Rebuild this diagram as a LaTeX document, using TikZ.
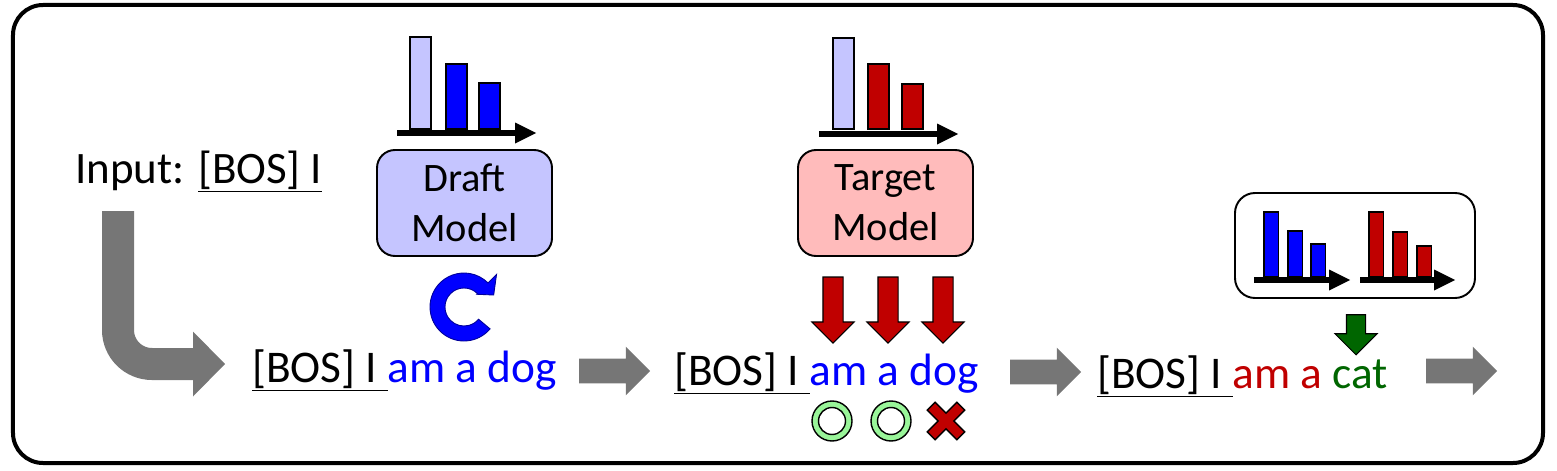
\documentclass[tikz,border=0pt]{standalone}
\usepackage{fontspec}
\setmainfont{Carlito}
\usepackage{tikz}
\usetikzlibrary{arrows.meta,shapes.arrows,positioning,calc}

\definecolor{draftfill}{RGB}{197,197,255}
\definecolor{targetfill}{RGB}{255,187,187}
\definecolor{darkred}{RGB}{192,0,0}
\definecolor{catgreen}{RGB}{0,102,0}
\definecolor{okgreen}{RGB}{153,245,153}
\definecolor{arrgray}{RGB}{118,118,118}

\begin{document}
\begin{tikzpicture}[
    model/.style={draw, line width=1.1pt, rounded corners=0.36cm, minimum width=3.5cm, minimum height=2.12cm, align=center, font=\fontsize{23}{28.5}\selectfont},
    seq/.style={anchor=base west, inner sep=0pt, font=\fontsize{25.8}{30}\selectfont},
    bar/.style={draw, line width=0.9pt},
    axis/.style={line width=0.11cm, -{Triangle[length=0.42cm, width=0.42cm, line width=0pt]}},
    flow/.style={single arrow, fill=arrgray, inner xsep=0pt, inner ysep=0.24cm, single arrow head extend=0.24cm, minimum height=1.42cm},
    check/.style={single arrow, draw, line width=0.6pt, rotate=-90, inner xsep=0pt}
]
\useasboundingbox (0,0) rectangle (31.14,9.4);
\draw[line width=0.08cm, rounded corners=0.6cm] (0.26,0.14) rectangle (30.86,9.30);

% input and the two models
\node[seq, font=\fontsize{25.6}{30}\selectfont] (input) at (1.5,5.74) {Input: \underline{[BOS] I}};
\node[model, fill=draftfill] (draft) at (9.29,5.34) {Draft\\Model};
\node[model, fill=targetfill] (target) at (17.71,5.34) {Target\\Model};

% token sequences
\node[seq] (seqA) at (5.04,1.76) {\underline{[BOS] I\ }\textcolor{blue}{am a dog}};
\node[seq] (seqB) at (13.48,1.70) {\underline{[BOS] I\ }\textcolor{blue}{am a dog}};
\node[seq] (seqC) at (21.94,1.64) {\underline{[BOS] I\ }\textcolor{darkred}{am a} \textcolor{catgreen}{cat}};

% distributions
\foreach \x/\t/\c in {8.2/8.66/draftfill, 8.92/8.12/blue, 9.58/7.74/blue}
    \draw[bar, fill=\c] (\x,6.82) rectangle (\x+0.42,\t);
\draw[axis] (7.94,6.74) -- (10.72,6.74);
\foreach \x/\t/\c in {16.66/8.64/draftfill, 17.36/8.12/darkred, 18.04/7.72/darkred}
    \draw[bar, fill=\c] (\x,6.82) rectangle (\x+0.42,\t);
\draw[axis] (16.38,6.72) -- (19.16,6.72);

% comparison box
\node[draw, line width=1.1pt, rounded corners=0.4cm, minimum width=4.8cm, minimum height=2.1cm] (compare) at (27.1,4.49) {};
\foreach \x/\t in {25.28/5.16, 25.76/4.78, 26.22/4.52}
    \draw[bar, fill=blue] (\x,3.86) rectangle (\x+0.29,\t);
\draw[axis, line width=0.12cm] (25.08,3.8) -- (27.0,3.8);
\foreach \x/\t in {27.38/5.16, 27.86/4.76, 28.34/4.48}
    \draw[bar, fill=darkred] (\x,3.86) rectangle (\x+0.29,\t);
\draw[axis, line width=0.12cm] (27.2,3.8) -- (29.1,3.8);

% draft loop
\begin{scope}[shift={(9.28,3.26)}]
\filldraw[fill=blue, draw=blue!60!black, line width=0.5pt] (-40:0.68) arc[start angle=-40, end angle=-315, radius=0.68]
    -- (45:0.92) -- (22:0.64) -- (45:0.36) -- (45:0.38) arc[start angle=-315, end angle=-40, radius=0.38] -- cycle;
\end{scope}

% flow arrows
\coordinate (inTop) at (2.36,5.18);
\coordinate (inEnd) at (4.5,2.12);
\draw[arrgray, line width=0.64cm, rounded corners=0.68cm, -{Triangle[length=0.64cm, width=1.3cm, line width=0pt]}] (inTop) |- (inEnd);
\node[flow] (flowA) at (12.17,1.98) {};
\node[flow] (flowB) at (20.79,1.96) {};
\node[flow] (flowC) at (29.11,1.98) {};

% verification
\foreach \x [count=\i] in {16.66,17.76,18.86}
    \node[check, fill=darkred, minimum height=1.32cm, inner ysep=0.19cm, single arrow head extend=0.22cm] (verify\i) at (\x,3.3) {};
\node[check, fill=catgreen, minimum height=0.8cm, inner ysep=0.18cm, single arrow head extend=0.23cm] (pick) at (27.12,2.8) {};

\foreach \x in {16.64,17.82}
    \filldraw[fill=okgreen, draw=black, line width=0.8pt, even odd rule] (\x,0.98) circle (0.4) (\x,0.98) circle (0.27);
\filldraw[fill=darkred, draw=black, line width=0.8pt, shift={(18.92,0.98)}, rotate=45]
    (0.11,0.11) -- (0.42,0.11) -- (0.42,-0.11) -- (0.11,-0.11) -- (0.11,-0.42) -- (-0.11,-0.42) -- (-0.11,-0.11)
    -- (-0.42,-0.11) -- (-0.42,0.11) -- (-0.11,0.11) -- (-0.11,0.42) -- (0.11,0.42) -- cycle;
\end{tikzpicture}
\end{document}
